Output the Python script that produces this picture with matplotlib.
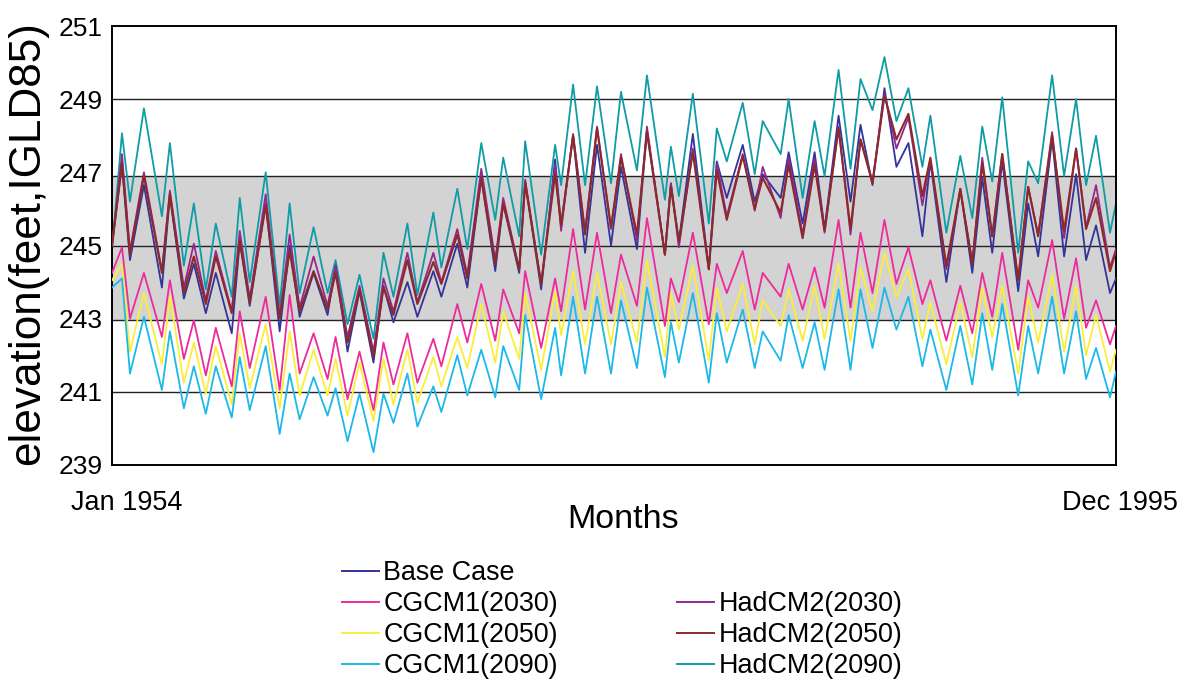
import matplotlib
matplotlib.use("Agg")
import matplotlib.pyplot as plt
from matplotlib.lines import Line2D

plt.rcParams['font.family'] = ['Liberation Sans', 'DejaVu Sans']

# month number of each reading (first month, then high / low of every year, then last month)
months = [0,
    5, 9, 16, 25, 29, 36, 41, 47, 52, 60, 64, 69, 77, 84, 89, 94, 101, 108, 112, 118,
    124, 131, 136, 141, 148, 153, 161, 165, 173, 178, 185, 192, 196, 204, 207, 215, 222, 225, 231, 237,
    243, 250, 255, 263, 268, 277, 280, 284, 291, 299, 303, 308, 316, 322, 326, 335, 339, 346, 352, 357,
    364, 370, 375, 381, 387, 393, 399, 406, 410, 418, 425, 431, 436, 441, 446, 454, 459, 464, 471, 477,
    483, 488, 493, 500,
    503]

base_case = [245.0,
    247.2,244.6, 246.65,243.85, 246.35,243.55, 244.5,243.15, 244.25,242.6, 245.1,243.35, 246.15,242.65, 245.0,243.05, 244.25,243.1, 244.45,242.1,
    243.75,241.8, 243.9,242.9, 244.0,243.05, 244.3,243.6, 245.05,243.85, 246.85,244.3, 246.15,244.25, 246.75,243.8, 247.35,245.55, 248.0,244.8,
    247.75,245.0, 247.15,244.9, 248.15,244.75, 246.7,245.1, 248.05,244.35, 247.3,246.3, 247.75,246.2, 246.95,246.3, 247.55,245.6, 247.55,245.45,
    248.55,246.2, 248.3,246.65, 249.3,247.15, 247.8,245.25, 247.3,244.0, 246.55,244.25, 246.85,244.8, 247.3,243.75, 246.15,244.7, 247.9,244.7,
    246.95,244.6, 245.55,243.7,
    244.1]

cgcm1_2030 = [244.25,
    244.95,243.0, 244.25,242.5, 244.05,241.9, 242.95,241.45, 242.75,241.15, 243.2,241.65, 243.6,241.05, 243.65,241.5, 242.6,241.35, 242.5,240.8,
    242.1,240.5, 242.35,241.2, 242.6,241.25, 242.45,241.7, 243.4,242.35, 243.95,242.4, 243.8,242.6, 244.3,242.2, 244.1,243.2, 245.45,243.25,
    245.35,243.15, 244.75,243.35, 245.75,242.8, 244.1,243.45, 245.35,242.85, 244.5,243.7, 244.85,243.25, 244.25,243.6, 244.5,243.25, 244.4,243.3,
    245.7,243.3, 245.35,243.7, 245.7,243.95, 244.95,243.4, 244.05,242.4, 243.9,242.6, 244.25,243.05, 244.8,242.15, 244.05,243.3, 245.15,243.0,
    244.65,242.75, 243.5,242.3,
    242.8]

cgcm1_2050 = [244.05,
    244.5,242.1, 243.7,241.75, 243.6,241.25, 242.35,240.95, 242.25,240.65, 242.6,241.1, 242.85,240.55, 242.65,240.9, 242.15,240.9, 241.9,240.35,
    241.8,240.2, 241.9,240.65, 242.15,240.7, 241.95,241.15, 242.5,241.65, 243.4,241.8, 243.2,241.9, 243.7,241.6, 243.75,242.55, 244.3,242.3,
    244.25,242.3, 244.0,242.35, 244.6,241.95, 243.7,242.7, 244.45,241.85, 243.85,242.65, 243.95,242.3, 243.5,242.8, 243.8,242.4, 243.9,242.45,
    244.5,242.4, 244.4,243.2, 244.8,243.6, 244.35,242.45, 243.45,241.75, 243.45,241.95, 243.85,242.5, 243.9,241.5, 243.6,242.35, 244.2,242.1,
    243.9,242.0, 243.1,241.55,
    242.15]

cgcm1_2090 = [243.85,
    244.1,241.5, 243.05,241.05, 242.65,240.55, 241.7,240.4, 241.7,240.3, 241.95,240.5, 242.25,239.85, 241.5,240.25, 241.4,240.35, 241.1,239.65,
    240.95,239.35, 240.95,240.15, 241.5,240.05, 241.15,240.45, 242.0,240.9, 242.15,240.85, 242.25,241.05, 243.1,240.8, 242.75,241.45, 243.6,241.5,
    243.6,241.5, 243.5,241.65, 243.85,241.4, 242.9,241.8, 243.7,241.25, 243.15,241.8, 243.25,241.65, 242.65,241.85, 243.1,241.65, 242.9,241.6,
    243.8,241.6, 243.8,242.2, 243.85,242.7, 243.6,241.7, 242.7,241.05, 242.8,241.2, 243.15,241.6, 243.4,240.9, 242.8,241.5, 243.6,241.5,
    243.2,241.35, 242.2,240.85,
    241.55]

hadcm2_2030 = [245.0,
    247.5,244.85, 247.0,244.3, 246.5,243.85, 245.05,243.5, 244.85,243.2, 245.4,243.55, 246.4,243.05, 245.3,243.3, 244.7,243.35, 244.45,242.5,
    243.9,242.1, 244.1,243.2, 244.8,243.45, 244.8,244.0, 245.45,244.2, 247.1,244.6, 246.3,244.35, 246.8,243.95, 247.2,245.4, 248.05,245.4,
    248.25,245.45, 247.5,245.15, 248.25,244.75, 246.7,244.95, 247.65,244.35, 247.25,245.8, 247.5,245.95, 247.15,245.75, 247.4,245.3, 247.35,245.35,
    248.25,245.3, 247.9,246.75, 249.15,247.65, 248.5,246.1, 247.35,244.35, 246.5,244.55, 247.4,245.25, 247.5,244.05, 246.6,245.3, 248.1,245.2,
    247.65,245.5, 246.65,244.4,
    244.9]

hadcm2_2050 = [245.0,
    247.25,244.75, 246.9,244.25, 246.4,243.7, 244.7,243.4, 244.7,243.15, 245.15,243.45, 246.1,243.0, 244.85,243.2, 244.3,243.25, 244.25,242.35,
    243.8,241.95, 243.85,243.1, 244.6,243.4, 244.55,243.95, 245.3,244.1, 246.85,244.5, 246.15,244.35, 246.7,243.95, 246.95,245.55, 248.0,245.3,
    248.2,245.5, 247.4,245.3, 248.1,244.75, 246.6,245.1, 247.55,244.35, 247.05,245.7, 247.45,246.0, 246.85,245.9, 247.2,245.2, 247.2,245.4,
    248.2,245.45, 247.9,246.7, 249.1,247.9, 248.6,246.35, 247.4,244.45, 246.55,244.5, 247.25,245.25, 247.5,244.05, 246.6,245.25, 248.0,245.4,
    247.65,245.45, 246.3,244.3,
    244.85]

hadcm2_2090 = [244.9,
    248.07,246.2, 248.75,245.8, 247.8,244.45, 246.15,243.8, 245.6,243.6, 246.3,244.0, 247.0,243.35, 246.15,243.7, 245.5,243.7, 244.6,242.85,
    244.2,242.45, 244.8,243.6, 245.6,243.65, 245.9,244.4, 246.55,244.9, 247.8,245.7, 247.4,245.25, 247.85,244.75, 247.75,246.65, 249.4,246.65,
    249.35,246.7, 249.2,247.05, 249.65,246.25, 247.7,246.35, 249.15,245.6, 248.2,247.3, 248.9,246.95, 248.4,247.5, 249.0,246.3, 248.4,246.9,
    249.8,247.1, 249.55,248.7, 250.15,248.4, 249.3,247.15, 248.55,245.35, 247.45,245.75, 248.25,246.75, 249.05,244.8, 247.3,246.7, 249.65,246.9,
    249.0,246.65, 248.0,245.35,
    246.15]

series_names = ['Base Case', 'CGCM1(2030)', 'CGCM1(2050)', 'CGCM1(2090)',
                'HadCM2(2030)', 'HadCM2(2050)', 'HadCM2(2090)']
y_ticks = [239, 241, 243, 245, 247, 249, 251]
grid_levels = [241, 242.95, 245, 246.89, 249]
band = [242.95, 246.89]

W, H = 1191, 681
fig = plt.figure(figsize=(W / 100, H / 100), dpi=100)
ax = fig.add_axes([112 / W, 1 - 465 / H, (1116 - 112) / W, (465 - 26) / H])

ax.axhspan(band[0], band[1], color='#d3d3d3', lw=0, zorder=0)
for g in grid_levels:
    ax.axhline(g, color='#222222', lw=1.0, zorder=1)

ax.plot(months, hadcm2_2090, color='#0e9ca6', lw=1.3, zorder=2)
ax.plot(months, base_case, color='#33339a', lw=1.3, zorder=3)
ax.plot(months, cgcm1_2030, color='#ee2a9b', lw=1.3, zorder=3)
ax.plot(months, cgcm1_2050, color='#fbee3b', lw=1.3, zorder=2.8)
ax.plot(months, cgcm1_2090, color='#1cb8e8', lw=1.3, zorder=3)
ax.plot(months, hadcm2_2030, color='#93278f', lw=1.3, zorder=4)
ax.plot(months, hadcm2_2050, color='#8c2a2a', lw=1.5, zorder=5)

ax.set_xlim(0, 503)
ax.set_ylim(239, 251)
ax.set_xticks([])
ax.set_yticks(y_ticks)
ax.tick_params(axis='y', length=0, pad=7, labelsize=19)
for s in ax.spines.values():
    s.set_linewidth(1.4)

fig.text(127 / W, 1 - 503 / H, 'Jan 1954', ha='center', va='center', fontsize=19.5)
fig.text(1120 / W, 1 - 503 / H, 'Dec 1995', ha='center', va='center', fontsize=19.5)
fig.text(623 / W, 1 - 520 / H, 'Months', ha='center', va='center', fontsize=24.5)
fig.text(28 / W, 1 - 243 / H, 'elevation(feet,IGLD85)', rotation=90,
         ha='center', va='center', fontsize=31.8)

colors = ['#33339a', '#ee2a9b', '#fbee3b', '#1cb8e8', '#93278f', '#8c2a2a', '#0e9ca6']
handles = [Line2D([], [], color=c, lw=1.4) for c in colors]
blank = Line2D([], [], color='none')
labels = series_names[:4] + [' '] + series_names[4:]
fig.legend(handles[:4] + [blank] + handles[4:], labels, ncol=2, frameon=False,
           loc='upper left', bbox_to_anchor=(342 / W, 1 - 560 / H), borderaxespad=0,
           borderpad=0, fontsize=19.4, handlelength=1.37, handletextpad=0.17,
           columnspacing=4.43, labelspacing=0.19)

fig.savefig('out.png', dpi=100)
